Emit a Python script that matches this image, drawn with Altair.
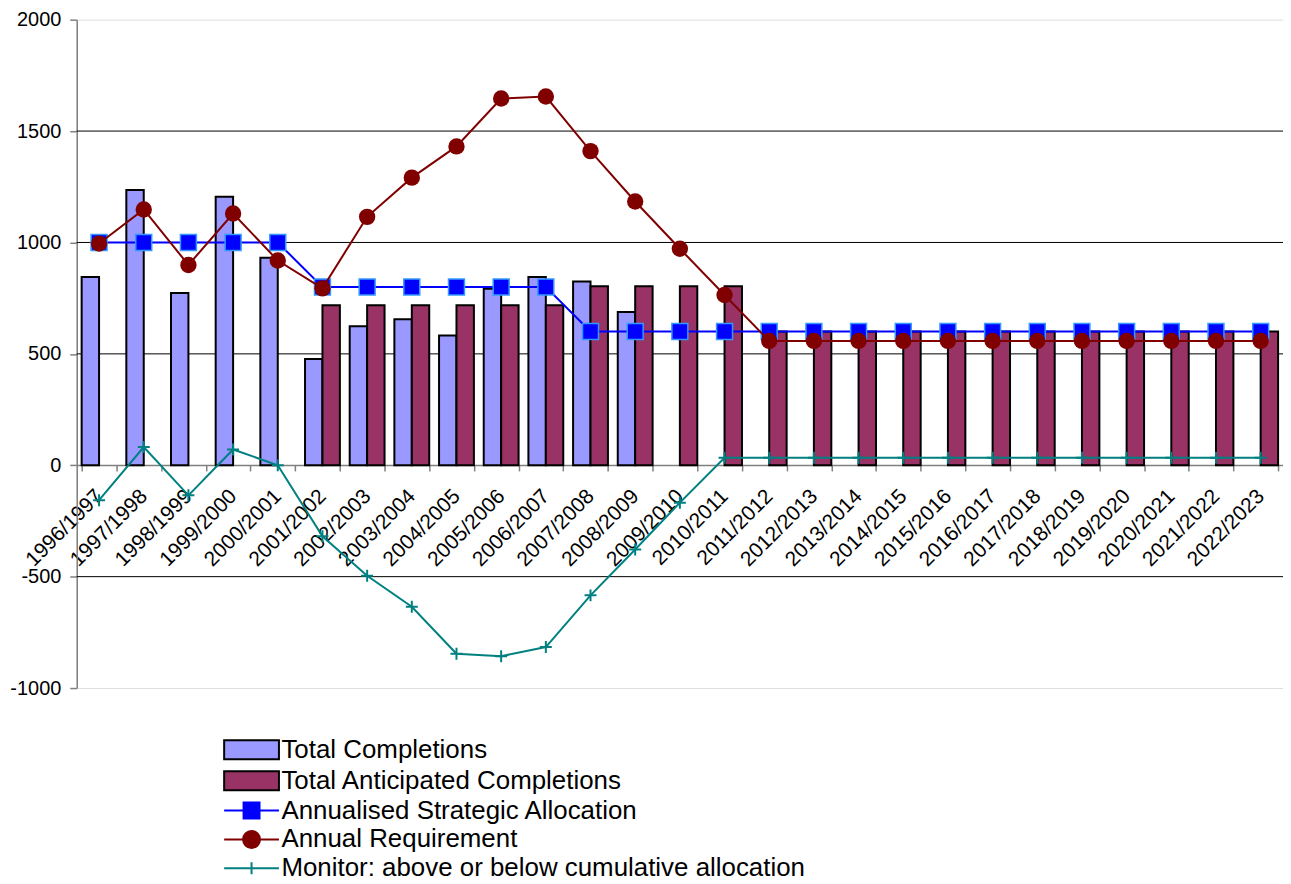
import altair as alt
import pandas as pd

categories = ["1996/1997", "1997/1998", "1998/1999", "1999/2000", "2000/2001", "2001/2002",
              "2002/2003", "2003/2004", "2004/2005", "2005/2006", "2006/2007", "2007/2008",
              "2008/2009", "2009/2010", "2010/2011", "2011/2012", "2012/2013", "2013/2014",
              "2014/2015", "2015/2016", "2016/2017", "2017/2018", "2018/2019", "2019/2020",
              "2020/2021", "2021/2022", "2022/2023"]

completions = [845, 1235, 773, 1205, 931, 477, 624, 655, 582, 792, 845, 825, 688,
               None, None, None, None, None, None, None, None, None, None, None, None, None, None]
anticipated = [None, None, None, None, None, 718, 718, 718, 718, 718, 718, 803, 803, 803, 803,
               600, 600, 600, 600, 600, 600, 600, 600, 600, 600, 600, 600]
allocation = [1000, 1000, 1000, 1000, 1000, 800, 800, 800, 800, 800, 800,
              600, 600, 600, 600, 600, 600, 600, 600, 600, 600, 600, 600, 600, 600, 600, 600]
requirement = [995, 1148, 899, 1130, 919, 794, 1115, 1291, 1431, 1646, 1655, 1410, 1184, 972, 764,
               558, 558, 558, 558, 558, 558, 558, 558, 558, 558, 558, 558]
monitor = [-157, 82, -135, 71, 0, -319, -496, -635, -846, -857, -816, -584, -378, -168, 34,
           34, 34, 34, 34, 34, 34, 34, 34, 34, 34, 34, 34]

y_ticks = [-1000, -500, 0, 500, 1000, 1500, 2000]
grid_values = [-500, 500, 1000, 1500]

series_names = ["Total Completions", "Total Anticipated Completions",
                "Annualised Strategic Allocation", "Annual Requirement",
                "Monitor: above or below cumulative allocation"]
bar_series = series_names[:2]

rows = []
for name, vals in zip(series_names, [completions, anticipated, allocation, requirement, monitor]):
    for c, v in zip(categories, vals):
        if v is not None:
            rows.append({"cat": c, "series": name, "value": v})
df = pd.DataFrame(rows)
grid_df = pd.DataFrame({"value": grid_values})

FONT = "Liberation Sans"

# legend symbol paths (unit = 10 px with symbolSize 400)
RECT = "M-2.75,-0.95H2.75V0.95H-2.75Z"
SQ_LINE = "M-2.75,0H-0.8M0.8,0H2.75M-0.8,-0.8H0.8V0.8H-0.8Z"
CIRC_LINE = "M-2.75,0H-0.85A0.85,0.85,0,1,1,0.85,0A0.85,0.85,0,1,1,-0.85,0M0.85,0H2.75"
CROSS_LINE = "M-2.75,0H2.75M0,-0.6V0.6"

fill_scale = alt.Scale(domain=series_names,
                       range=["#9999FF", "#993366", "#0000FF", "#800000", "#008080"])
stroke_scale = alt.Scale(domain=series_names,
                         range=["#000000", "#000000", "#0000FF", "#800000", "#008080"])
shape_scale = alt.Scale(domain=series_names,
                        range=[RECT, RECT, SQ_LINE, CIRC_LINE, CROSS_LINE])

x_scale = alt.Scale(domain=categories, paddingInner=0.22, paddingOuter=0.11)
y_scale = alt.Scale(domain=[-1000, 2000], nice=False, zero=True)

x_axis = alt.Axis(title=None, labelAngle=-45, labelAlign="right", labelBaseline="middle",
                  labelFont=FONT, labelFontSize=21, labelColor="black",
                  domainColor="#808080", domainWidth=1.5, tickColor="#808080", tickSize=6,
                  tickWidth=1.5, tickBand="extent", offset=-224, labelPadding=22, labelOffset=0,
                  grid=False, gridOpacity=0, labelOverlap=False)
y_axis = alt.Axis(title=None, values=y_ticks,
                  labelExpr="datum.value < 0 ? '-' + abs(datum.value) : '' + datum.value",
                  labelFont=FONT, labelFontSize=20, labelColor="black",
                  domainColor="#808080", domainWidth=1.5, tickColor="#808080", tickSize=7,
                  tickWidth=1.5, labelPadding=9, grid=False, gridOpacity=0)

xs = alt.X("cat:N", scale=x_scale, sort=categories, axis=x_axis)
ys = alt.Y("value:Q", scale=y_scale, axis=y_axis)

base = alt.Chart(df)

grid = alt.Chart(grid_df).mark_rule(color="black", strokeWidth=1).encode(y=ys)

bars = base.transform_filter(
    alt.FieldOneOfPredicate(field="series", oneOf=bar_series)
).mark_bar(stroke="black", strokeWidth=2).encode(
    x=xs, y=ys,
    xOffset=alt.XOffset("series:N", scale=alt.Scale(domain=bar_series)),
    fill=alt.condition(alt.datum.series == bar_series[0], alt.value("#9999FF"), alt.value("#993366")),
)

def sel(name):
    return base.transform_filter(alt.datum.series == name)

alloc_line = sel(series_names[2]).mark_line(color="#0000FF", strokeWidth=2).encode(x=xs, y=ys)
alloc_pts = sel(series_names[2]).mark_point(shape="square", filled=True, size=256, fill="#0000FF",
                                            stroke="#3399FF", strokeWidth=1.5, opacity=1).encode(x=xs, y=ys)

req_line = sel(series_names[3]).mark_line(color="#800000", strokeWidth=2).encode(x=xs, y=ys)
req_pts = sel(series_names[3]).mark_point(shape="circle", filled=True, size=270, color="#800000",
                                          opacity=1).encode(x=xs, y=ys)

mon_line = sel(series_names[4]).mark_line(color="#008080", strokeWidth=2).encode(x=xs, y=ys)
mon_pts = sel(series_names[4]).mark_point(shape="M-1,0H1M0,-1V1", size=144, stroke="#008080",
                                          strokeWidth=2, filled=False, opacity=1).encode(x=xs, y=ys)

legend = alt.Legend(title=None, orient="none", legendX=145, legendY=720, symbolSize=400,
                    symbolStrokeWidth=2, labelFont=FONT, labelFontSize=26, labelColor="black",
                    rowPadding=3.0, labelOffset=17, padding=0, symbolOffset=17.5,
                    labelLimit=1000, symbolOpacity=1)

legend_layer = base.transform_filter("datum.value > 100000").mark_point(filled=True).encode(
    fill=alt.Fill("series:N", scale=fill_scale, legend=legend),
    stroke=alt.Stroke("series:N", scale=stroke_scale, legend=legend),
    shape=alt.Shape("series:N", scale=shape_scale, legend=legend),
)

chart = alt.layer(grid, bars, alloc_line, alloc_pts, req_line, req_pts, mon_line, mon_pts,
                  legend_layer).properties(
    width=1211, height=671,
    autosize=alt.AutoSizeParams(type="none"),
    padding={"left": 69, "top": 10, "right": 0, "bottom": 194},
).configure_view(stroke="transparent", strokeWidth=0).configure_axis(
    grid=False, gridOpacity=0
).configure(background="white")

chart.save("out.html", embed_options={"renderer": "svg", "actions": False})
